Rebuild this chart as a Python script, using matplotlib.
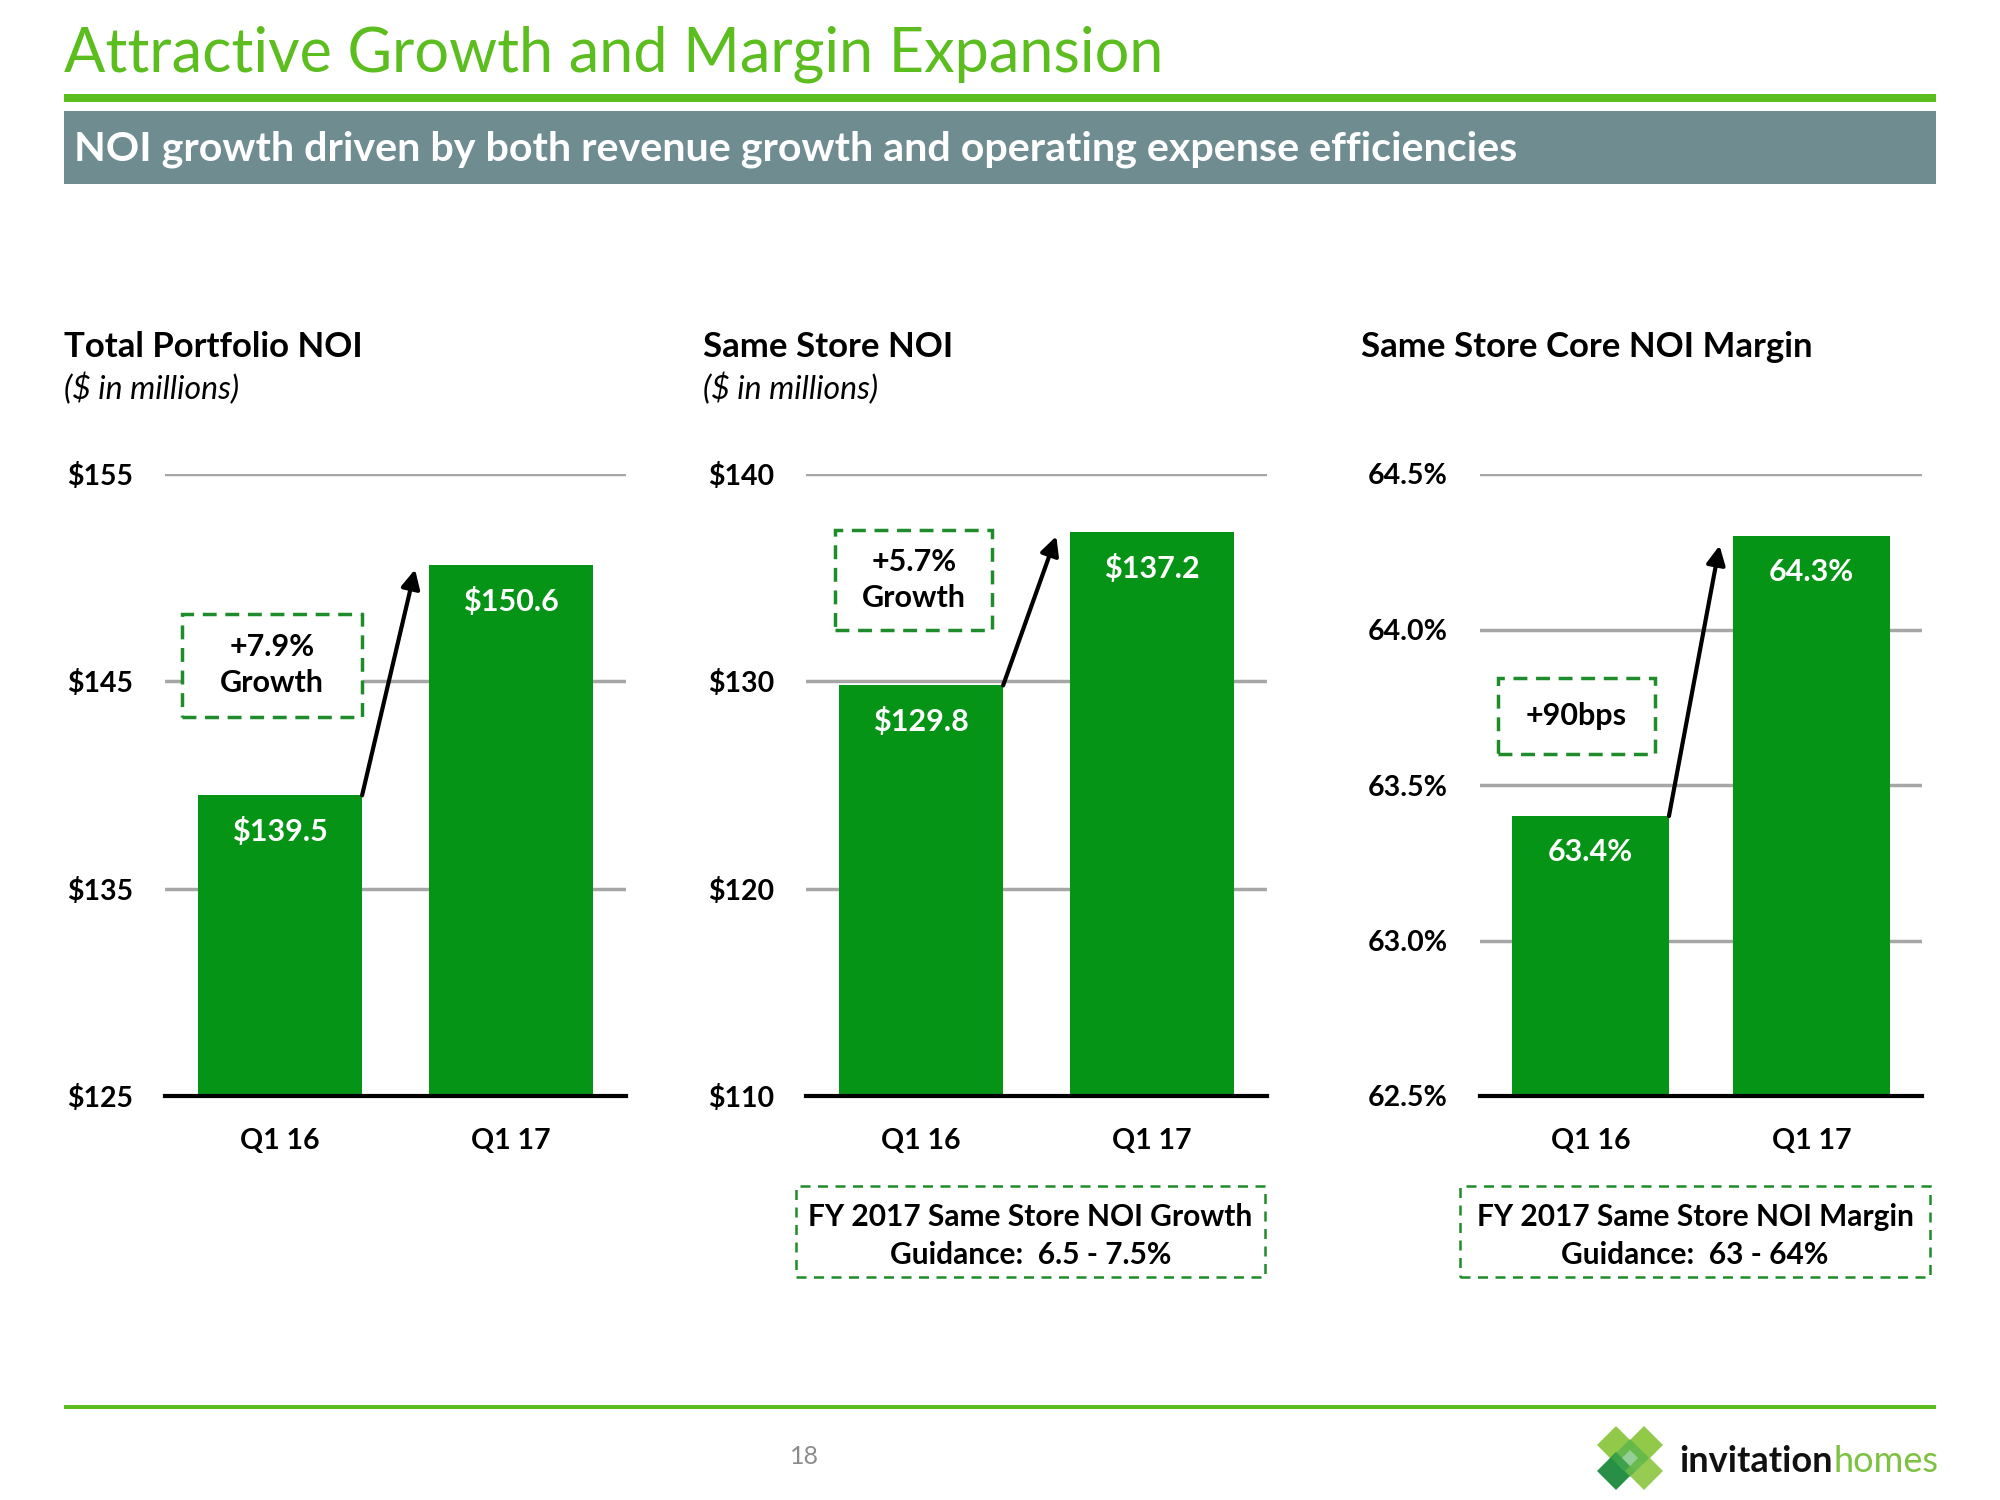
import matplotlib.pyplot as plt
from matplotlib.patches import Rectangle, Polygon

plt.rcParams['font.family'] = ['Lato', 'DejaVu Sans']

# data
categories = ["Q1 16", "Q1 17"]
total_noi = [139.5, 150.6]
same_store_noi = [129.8, 137.2]
core_margin = [63.4, 64.3]

total_ticks = [125, 135, 145, 155]
same_ticks = [110, 120, 130, 140]
margin_ticks = [62.5, 63.0, 63.5, 64.0, 64.5]

total_growth = "+7.9%\nGrowth"
same_growth = "+5.7%\nGrowth"
margin_growth = "+90bps"

guide_same = "FY 2017 Same Store NOI Growth\nGuidance:  6.5 - 7.5%"
guide_margin = "FY 2017 Same Store NOI Margin\nGuidance:  63 - 64%"

BAR = '#069416'
LIME = '#5BBD1E'
BANNER = '#6F8C91'
GRID = '#A6A6A6'
DASH = '#1E8C2A'

W, H = 2000, 1500
fig = plt.figure(figsize=(20, 15), dpi=100)


def fx(px):
    return px / W


def fy(py):
    return 1 - py / H


# header
fig.text(fx(64), fy(54), "Attractive Growth and Margin Expansion", color=LIME,
         fontsize=44, va='center', ha='left')
fig.add_artist(Rectangle((fx(64), fy(102)), fx(1872), 8 / H, color=LIME, lw=0))
fig.add_artist(Rectangle((fx(64), fy(184)), fx(1872), 73 / H, color=BANNER, lw=0))
fig.text(fx(74), fy(149), "NOI growth driven by both revenue growth and operating expense efficiencies",
         color='white', fontsize=29.7, fontweight='bold', va='center', ha='left')

# footer
fig.add_artist(Rectangle((fx(64), fy(1409)), fx(1872), 4 / H, color=LIME, lw=0))
fig.text(fx(804), fy(1457), "18", color='#8C8C8C', fontsize=18, ha='center', va='center')

# logo
cx, cy, r = 1630, 1458, 19
for dx, dy, col, a in [(-14, -13, '#8DC63F', 0.95), (14, -13, '#8DC63F', 0.95),
                       (-14, 13, '#1B8A3C', 0.95), (14, 13, '#8DC63F', 0.9),
                       (0, 0, '#4CAF50', 0.6)]:
    x0, y0 = cx + dx, cy + dy
    pts = [(fx(x0), fy(y0 - r)), (fx(x0 + r), fy(y0)), (fx(x0), fy(y0 + r)), (fx(x0 - r), fy(y0))]
    fig.add_artist(Polygon(pts, closed=True, color=col, alpha=a, lw=0))
fig.text(fx(1679), fy(1461), "invitation", color='#111111', fontsize=26,
         fontweight='bold', ha='left', va='center')
fig.text(fx(1834), fy(1461), "homes", color='#7DC242', fontsize=26,
         ha='left', va='center')


def panel(left, width, values, ticks, fmt, title, title_x, sub, growth, box, tip, lab):
    ax = fig.add_axes([fx(left), fy(1096), fx(width), 622 / H])
    x = [0, 1]
    ax.bar(x, values, width=0.71, color=BAR, zorder=3)
    ax.set_xlim(-0.5, 1.5)
    ax.set_ylim(ticks[0], ticks[-1])
    ax.set_yticks(ticks)
    ax.set_yticklabels([fmt(t) for t in ticks])
    ax.set_xticks(x)
    ax.set_xticklabels(categories)
    ax.grid(axis='y', color=GRID, lw=2.5, zorder=0)
    for s in ['top', 'right', 'left']:
        ax.spines[s].set_visible(False)
    ax.spines['bottom'].set_linewidth(3)
    ax.spines['bottom'].set_zorder(4)
    ax.tick_params(length=0, labelsize=20.5, pad=23)
    ax.tick_params(axis='x', pad=23)
    for t in ax.get_xticklabels() + ax.get_yticklabels():
        t.set_fontweight('bold')
    ax.set_facecolor('none')
    for xi, v in zip(x, values):
        ax.annotate(lab(v), (xi, v), xytext=(0, -36), textcoords='offset pixels',
                    ha='center', va='center', color='white', fontsize=22,
                    fontweight='bold', zorder=5)
    bx0, by0, bx1, by1 = box
    ax.add_patch(Rectangle((bx0, by0), bx1 - bx0, by1 - by0, facecolor='white',
                           edgecolor=DASH, lw=2.5, ls=(0, (4, 2.5)), zorder=5))
    ax.text((bx0 + bx1) / 2, (by0 + by1) / 2, growth, ha='center', va='center',
            fontsize=22, fontweight='bold', linespacing=1.35, zorder=6)
    ax.annotate('', xy=tip, xytext=(0.355, values[0]),
                arrowprops=dict(arrowstyle='-|>', lw=3, color='black',
                                mutation_scale=28, shrinkA=0, shrinkB=0), zorder=7)
    fig.text(fx(title_x), fy(347), title, fontsize=25, fontweight='bold',
             ha='left', va='center')
    if sub:
        fig.text(fx(title_x), fy(389), sub, fontsize=23, style='italic',
                 ha='left', va='center')
    return ax


def guide(x0, x1, text):
    fig.add_artist(Rectangle((fx(x0), fy(1277)), fx(x1 - x0), 91 / H, fill=False,
                             edgecolor=DASH, lw=1.8, ls=(0, (4, 3))))
    fig.text(fx((x0 + x1) / 2), fy(1236), text, ha='center', va='center',
             fontsize=21.5, fontweight='bold', linespacing=1.45)


panel(165, 461, total_noi, total_ticks, lambda t: f"${t:.0f}",
      "Total Portfolio NOI", 64, "($ in millions)", total_growth,
      (-0.428, 143.30, 0.356, 148.23), (0.585, 150.4), lambda v: f"${v:.1f}")
panel(806, 461, same_store_noi, same_ticks, lambda t: f"${t:.0f}",
      "Same Store NOI", 703, "($ in millions)", same_growth,
      (-0.373, 132.49, 0.309, 137.29), (0.586, 137.0), lambda v: f"${v:.1f}")
panel(1480, 442, core_margin, margin_ticks, lambda t: f"{t:.1f}%",
      "Same Store Core NOI Margin", 1361, None, margin_growth,
      (-0.419, 63.601, 0.29, 63.843), (0.584, 64.27), lambda v: f"{v:.1f}%")

guide(796, 1265, guide_same)
guide(1460, 1930, guide_margin)

fig.savefig("out.png", dpi=100)
